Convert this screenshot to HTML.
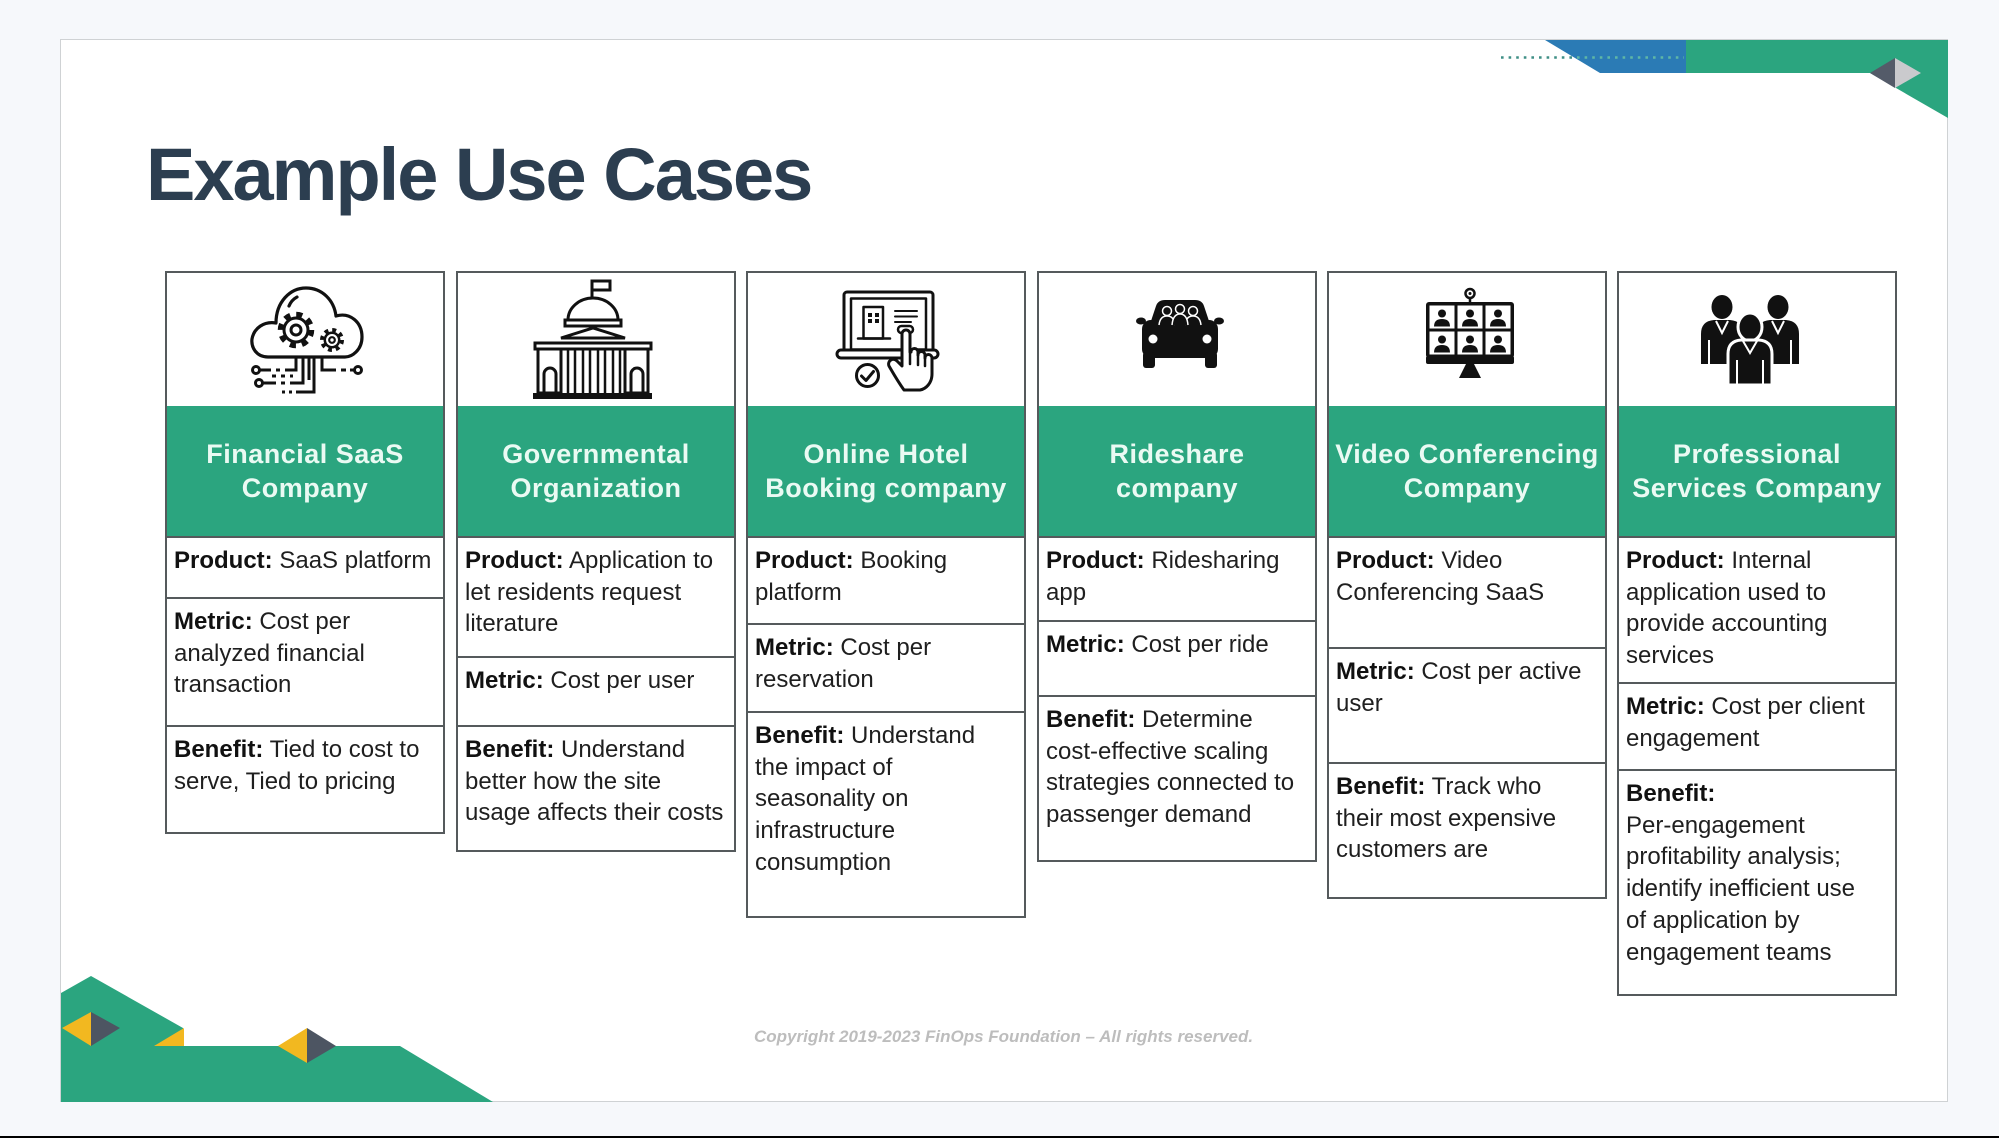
<!DOCTYPE html>
<html>
<head>
<meta charset="utf-8">
<style>
  html,body{margin:0;padding:0;}
  body{width:1999px;height:1138px;background:#f6f8fb;position:relative;overflow:hidden;font-family:"Liberation Sans",sans-serif;}
  .slide{position:absolute;left:60px;top:39px;width:1888px;height:1063px;background:#fff;border:1.5px solid #cfd2d4;box-sizing:border-box;}
  .blackbar{position:absolute;left:0;top:1136px;width:1999px;height:2px;background:#000;}
  .title{position:absolute;left:146px;top:138px;font:bold 74px/74px "Liberation Sans",sans-serif;letter-spacing:-2px;color:#2c3e50;white-space:nowrap;}
  .col{position:absolute;top:271px;width:280px;border:2px solid #555a5c;box-sizing:border-box;background:#fff;}
  .hd{position:absolute;left:0;right:0;top:133px;height:130px;background:#2ba57f;color:#eafaf3;font:bold 27px/34px "Liberation Sans",sans-serif;letter-spacing:.5px;display:flex;align-items:center;justify-content:center;text-align:center;white-space:nowrap;}
  .row{position:absolute;left:0;right:0;border-top:2px solid #555a5c;padding:7px 0 0 7px;box-sizing:border-box;font:24px/31.7px "Liberation Sans",sans-serif;color:#1f1f1f;white-space:nowrap;}
  .row b{color:#111;}
  .copy{position:absolute;left:754px;top:1027px;font:italic bold 17px/20px "Liberation Sans",sans-serif;color:#bdbdbd;white-space:nowrap;}
  svg.ov{position:absolute;left:0;top:0;z-index:5;}
</style>
</head>
<body>
<div class="slide"></div>
<div class="blackbar"></div>

<div class="title">Example Use Cases</div>

<!-- Column 1 -->
<div class="col" style="left:165px;height:563px;">
  <div class="hd"><div>Financial SaaS<br>Company</div></div>
  <div class="row" style="top:263px;height:61px;"><b>Product:</b> SaaS platform</div>
  <div class="row" style="top:324px;height:128px;"><b>Metric:</b> Cost per<br>analyzed financial<br>transaction</div>
  <div class="row" style="top:452px;bottom:0;"><b>Benefit:</b> Tied to cost to<br>serve, Tied to pricing</div>
</div>

<!-- Column 2 -->
<div class="col" style="left:456px;height:581px;">
  <div class="hd"><div>Governmental<br>Organization</div></div>
  <div class="row" style="top:263px;height:120px;"><b>Product:</b> Application to<br>let residents request<br>literature</div>
  <div class="row" style="top:383px;height:69px;"><b>Metric:</b> Cost per user</div>
  <div class="row" style="top:452px;bottom:0;"><b>Benefit:</b> Understand<br>better how the site<br>usage affects their costs</div>
</div>

<!-- Column 3 -->
<div class="col" style="left:746px;height:647px;">
  <div class="hd"><div>Online Hotel<br>Booking company</div></div>
  <div class="row" style="top:263px;height:87px;"><b>Product:</b> Booking<br>platform</div>
  <div class="row" style="top:350px;height:88px;"><b>Metric:</b> Cost per<br>reservation</div>
  <div class="row" style="top:438px;bottom:0;"><b>Benefit:</b> Understand<br>the impact of<br>seasonality on<br>infrastructure<br>consumption</div>
</div>

<!-- Column 4 -->
<div class="col" style="left:1037px;height:591px;">
  <div class="hd"><div>Rideshare<br>company</div></div>
  <div class="row" style="top:263px;height:84px;"><b>Product:</b> Ridesharing<br>app</div>
  <div class="row" style="top:347px;height:75px;"><b>Metric:</b> Cost per ride</div>
  <div class="row" style="top:422px;bottom:0;"><b>Benefit:</b> Determine<br>cost-effective scaling<br>strategies connected to<br>passenger demand</div>
</div>

<!-- Column 5 -->
<div class="col" style="left:1327px;height:628px;">
  <div class="hd"><div>Video Conferencing<br>Company</div></div>
  <div class="row" style="top:263px;height:111px;"><b>Product:</b> Video<br>Conferencing SaaS</div>
  <div class="row" style="top:374px;height:115px;"><b>Metric:</b> Cost per active<br>user</div>
  <div class="row" style="top:489px;bottom:0;"><b>Benefit:</b> Track who<br>their most expensive<br>customers are</div>
</div>

<!-- Column 6 -->
<div class="col" style="left:1617px;height:725px;">
  <div class="hd"><div>Professional<br>Services Company</div></div>
  <div class="row" style="top:263px;height:146px;"><b>Product:</b> Internal<br>application used to<br>provide accounting<br>services</div>
  <div class="row" style="top:409px;height:87px;"><b>Metric:</b> Cost per client<br>engagement</div>
  <div class="row" style="top:496px;bottom:0;"><b>Benefit:</b><br>Per-engagement<br>profitability analysis;<br>identify inefficient use<br>of application by<br>engagement teams</div>
</div>

<div class="copy">Copyright 2019-2023 FinOps Foundation – All rights reserved.</div>

<svg class="ov" width="1999" height="1138" viewBox="0 0 1999 1138" xmlns="http://www.w3.org/2000/svg">
  <!-- top-right decoration -->
  <polygon points="1545,40 1686,40 1686,73 1600,73" fill="#2b7bb5"/>
  <polygon points="1686,40 1948,40 1948,118 1870,73 1686,73" fill="#2ba57f"/>
  <polygon points="1870,73 1895,58 1895,88" fill="#545b69"/>
  <polygon points="1895,58 1921,73 1895,88" fill="#cacacd"/>
  <line x1="1501" y1="57.5" x2="1574" y2="57.5" stroke="#3f8f86" stroke-width="2.6" stroke-dasharray="2.6 5"/>
  <line x1="1577" y1="57.5" x2="1684" y2="57.5" stroke="#5fb7a6" stroke-width="2.6" stroke-dasharray="2.6 5"/>

  <!-- bottom-left decoration -->
  <polygon points="61,993 91,976 183,1028 183,1046 400,1046 493,1102 61,1102" fill="#2ba57f"/>
  <polygon points="62,1028 91,1012 91,1046" fill="#f2b820"/>
  <polygon points="91,1012 120,1028 91,1046" fill="#4d5562"/>
  <polygon points="154,1046 184,1028 184,1046" fill="#f2b820"/>
  <polygon points="278,1046 307,1028 307,1063" fill="#f2b820"/>
  <polygon points="307,1028 336,1046 307,1063" fill="#4d5562"/>

  <!-- Icon 1: cloud with gears -->
  <g stroke="#111" stroke-width="3.2" fill="none" stroke-linecap="round" stroke-linejoin="round">
    <path d="M 268 357 C 256 357 251 347 252 339 C 254 328 264 321 276 323 C 276 302 290 288 306 288 C 322 288 334 300 336 316 C 350 312 362 322 362 337 C 362 350 352 357 345 357 Z" fill="#fff"/>
    <path d="M 289 306 A 18 18 0 0 1 297 297"/>
  </g>
  <circle cx="296" cy="330" r="15" fill="none" stroke="#111" stroke-width="6.5" stroke-dasharray="5.9 5.9"/>
  <circle cx="296" cy="330" r="12" fill="#fff" stroke="#111" stroke-width="3"/>
  <circle cx="296" cy="330" r="5" fill="#fff" stroke="#111" stroke-width="3"/>
  <circle cx="332" cy="340" r="9.5" fill="none" stroke="#111" stroke-width="5" stroke-dasharray="3.7 3.75"/>
  <circle cx="332" cy="340" r="7.2" fill="#fff" stroke="#111" stroke-width="2.5"/>
  <circle cx="332" cy="340" r="2.8" fill="#fff" stroke="#111" stroke-width="2.2"/>
  <g stroke="#111" stroke-width="3" fill="none">
    <circle cx="256" cy="370" r="3.5"/>
    <path d="M260 370 H271 M276 370 H280 M285 370 H296 V357"/>
    <circle cx="259" cy="383" r="3.5"/>
    <path d="M263 383 H276 M281 383 H285 M290 383 H303 V357"/>
    <path d="M272 376 H276 M281 376 H285 M290 376 H293"/>
    <path d="M282 392 H285 M289 392 H292 M296 392 H314 V357"/>
    <path d="M309 357 V380"/>
    <path d="M322 357 V370 H336 M341 370 H346 M350 370 H354"/>
    <circle cx="358" cy="370" r="3.5"/>
  </g>

  <!-- Icon 2: government building -->
  <g stroke="#111" stroke-width="3" fill="none">
    <path d="M592 299 V281 H610 V290 H592"/>
    <path d="M568 320 A 25 22 0 0 1 618 320"/>
    <rect x="565" y="320" width="56" height="6"/>
    <path d="M561 338 L593 328 L625 338 Z"/>
    <rect x="535" y="343" width="116" height="6"/>
    <rect x="538" y="349" width="23" height="44"/>
    <rect x="625" y="349" width="23" height="44"/>
    <path d="M544 393 V374 A6 6 0 0 1 556 374 V393"/>
    <path d="M631 393 V374 A6 6 0 0 1 643 374 V393"/>
  </g>
  <path d="M568 350 V393 M575 350 V393 M583 350 V393 M590 350 V393 M598 350 V393 M605 350 V393 M613 350 V393 M620 350 V393" stroke="#111" stroke-width="2.5"/>
  <rect x="533" y="393" width="119" height="6" fill="#111"/>

  <!-- Icon 3: hotel booking -->
  <g stroke="#111" stroke-width="3" fill="none" stroke-linecap="round" stroke-linejoin="round">
    <rect x="844" y="292" width="89" height="60" rx="3" fill="#fff"/>
    <rect x="851" y="298.5" width="75" height="51" stroke-width="2.5"/>
    <rect x="837" y="350" width="101" height="8" rx="4" fill="#fff"/>
    <rect x="863.5" y="307" width="19.5" height="31.5" stroke-width="2.5"/>
    <path d="M858 338.5 H890" stroke-width="2.5"/>
    <path d="M895 311 H917 M895 316.5 H917 M895 322 H911" stroke-width="2"/>
    <rect x="898" y="326" width="15" height="7" rx="3.5" fill="#fff" stroke-width="2.5"/>
    <path d="M 902 366 L 902 334 A 4 4 0 0 1 910 334 L 910 352 L 911 352 A 3.5 3.5 0 0 1 918 352 L 918 355 A 3.5 3.5 0 0 1 925 355 L 925 358 A 3.5 3.5 0 0 1 932 358 L 932 374 C 932 383 926 389 920 390 L 904 390 C 899 383 893 373 889 366 C 887 361 893 357 897 361 Z" fill="#fff"/>
    <path d="M910 352 V364 M918 355 V365 M925 358 V366" stroke-width="2.5"/>
    <circle cx="867.5" cy="375.5" r="11" fill="#fff"/>
    <path d="M861.5 376 L866 380.5 L873.5 371.5"/>
  </g>
  <g fill="#111">
    <rect x="868" y="313" width="4" height="4"/><rect x="875" y="313" width="4" height="4"/>
    <rect x="868" y="319" width="4" height="4"/><rect x="875" y="319" width="4" height="4"/>
  </g>

  <!-- Icon 4: car -->
  <g fill="#111">
    <path d="M 1150 324 L 1156 306 Q 1158 300 1165 300 L 1195 300 Q 1202 300 1204 306 L 1210 324 Z"/>
    <rect x="1142" y="320" width="76" height="38" rx="9"/>
    <ellipse cx="1141" cy="321" rx="5" ry="3.5"/>
    <ellipse cx="1219" cy="321" rx="5" ry="3.5"/>
    <rect x="1143" y="352" width="12" height="16" rx="3"/>
    <rect x="1205" y="352" width="12" height="16" rx="3"/>
  </g>
  <circle cx="1153" cy="339" r="4.5" fill="#fff"/>
  <circle cx="1207" cy="339" r="4.5" fill="#fff"/>
  <g fill="#111" stroke="#fff" stroke-width="1.5">
    <path d="M1159 325 Q1160 316 1167 316 Q1174 316 1175 325"/>
    <path d="M1185 325 Q1186 316 1193 316 Q1200 316 1201 325"/>
    <path d="M1172 325 Q1173 314 1180 314 Q1187 314 1188 325"/>
    <circle cx="1167" cy="311" r="4.5"/>
    <circle cx="1193" cy="311" r="4.5"/>
    <circle cx="1180" cy="309" r="4.5"/>
  </g>

  <!-- Icon 5: video conferencing -->
  <circle cx="1470" cy="293.5" r="4.5" fill="#fff" stroke="#111" stroke-width="2.5"/>
  <circle cx="1470" cy="293.5" r="1.5" fill="#111"/>
  <line x1="1470" y1="298" x2="1470" y2="303" stroke="#111" stroke-width="2.5"/>
  <rect x="1426" y="302" width="88" height="56" rx="3" fill="#111"/>
  <g fill="#fff">
    <rect x="1429.5" y="305.5" width="25" height="23"/>
    <rect x="1457.5" y="305.5" width="25" height="23"/>
    <rect x="1485.5" y="305.5" width="25" height="23"/>
    <rect x="1429.5" y="331.5" width="25" height="23"/>
    <rect x="1457.5" y="331.5" width="25" height="23"/>
    <rect x="1485.5" y="331.5" width="25" height="23"/>
  </g>
  <g fill="#111">
    <circle cx="1442" cy="313.5" r="4"/><path d="M1434 326.5 Q1434 319 1442 319 Q1450 319 1450 326.5 Z"/>
    <circle cx="1470" cy="313.5" r="4"/><path d="M1462 326.5 Q1462 319 1470 319 Q1478 319 1478 326.5 Z"/>
    <circle cx="1498" cy="313.5" r="4"/><path d="M1490 326.5 Q1490 319 1498 319 Q1506 319 1506 326.5 Z"/>
    <circle cx="1442" cy="339.5" r="4"/><path d="M1434 352.5 Q1434 345 1442 345 Q1450 345 1450 352.5 Z"/>
    <circle cx="1470" cy="339.5" r="4"/><path d="M1462 352.5 Q1462 345 1470 345 Q1478 345 1478 352.5 Z"/>
    <circle cx="1498" cy="339.5" r="4"/><path d="M1490 352.5 Q1490 345 1498 345 Q1506 345 1506 352.5 Z"/>
    <rect x="1426" y="356" width="88" height="8" rx="2"/>
    <polygon points="1466,364 1474,364 1481,378 1459,378"/>
  </g>

  <!-- Icon 6: professional people -->
  <g fill="#111">
    <ellipse cx="1722" cy="307" rx="10.5" ry="12"/>
    <path d="M1701 364 V334 Q1701 321 1714 320 H1730 Q1743 321 1743 334 V364 Z"/>
    <ellipse cx="1778" cy="307" rx="10.5" ry="12"/>
    <path d="M1757 364 V334 Q1757 321 1770 320 H1786 Q1799 321 1799 334 V364 Z"/>
  </g>
  <g stroke="#fff" stroke-width="2" fill="none">
    <path d="M1716 321 L1722 333 L1728 321"/>
    <path d="M1772 321 L1778 333 L1784 321"/>
    <path d="M1709 340 V364 M1791 340 V364"/>
  </g>
  <ellipse cx="1750" cy="327" rx="12" ry="14" fill="#111" stroke="#fff" stroke-width="3"/>
  <path d="M1728 385 V354 Q1728 341 1741 340 H1759 Q1772 341 1772 354 V385 Z" fill="#111" stroke="#fff" stroke-width="3"/>
  <g stroke="#fff" stroke-width="2" fill="none">
    <path d="M1743 341 L1750 353 L1757 341"/>
    <path d="M1737 360 V385 M1763 360 V385"/>
  </g>
</svg>
</body>
</html>
